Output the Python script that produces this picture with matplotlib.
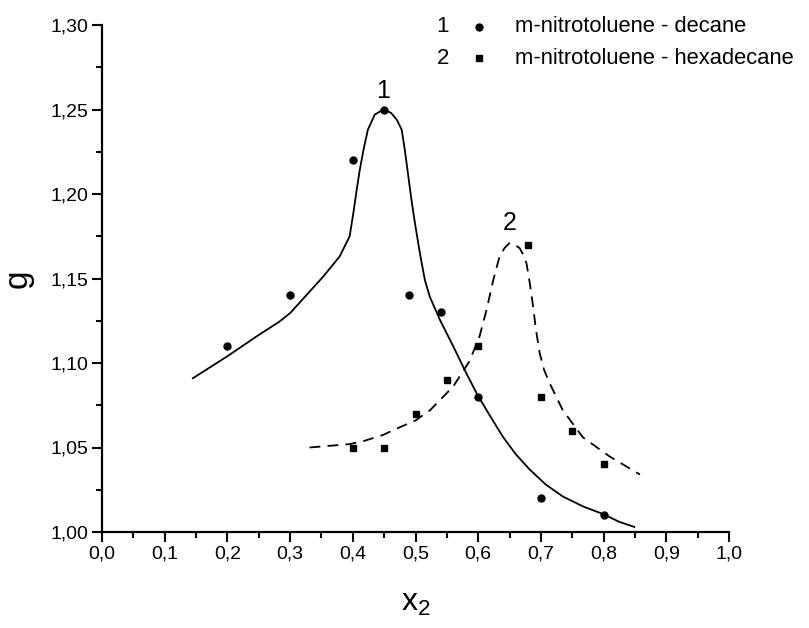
import numpy as np
import matplotlib
matplotlib.use("Agg")
import matplotlib.pyplot as plt
from matplotlib.ticker import MultipleLocator, FuncFormatter

plt.rcParams['font.family'] = ['Liberation Sans', 'DejaVu Sans']
plt.rcParams['mathtext.fontset'] = 'custom'
plt.rcParams['mathtext.rm'] = 'Liberation Sans'
plt.rcParams['mathtext.it'] = 'Liberation Sans'

# measured points
x_decane = [0.20, 0.30, 0.40, 0.45, 0.49, 0.54, 0.60, 0.70, 0.80]
g_decane = [1.11, 1.14, 1.22, 1.25, 1.14, 1.13, 1.08, 1.02, 1.01]

x_hexadecane = [0.40, 0.45, 0.50, 0.55, 0.60, 0.68, 0.70, 0.75, 0.80]
g_hexadecane = [1.05, 1.05, 1.07, 1.09, 1.11, 1.17, 1.08, 1.06, 1.04]

# curves
curve1_x = [0.145, 0.200, 0.246, 0.283, 0.300, 0.3525, 0.379, 0.395, 0.401,
            0.406, 0.411, 0.417, 0.424, 0.435, 0.449, 0.461, 0.470, 0.478,
            0.483, 0.488, 0.493, 0.499, 0.507, 0.515, 0.523, 0.539, 0.560,
            0.581, 0.599, 0.620, 0.640, 0.660, 0.682, 0.708, 0.735, 0.768,
            0.800, 0.825, 0.849]
curve1_g = [1.091, 1.104, 1.1156, 1.1245, 1.1295, 1.151, 1.163, 1.175, 1.189,
            1.202, 1.214, 1.226, 1.238, 1.247, 1.250, 1.248, 1.244, 1.238,
            1.226, 1.212, 1.198, 1.183, 1.165, 1.149, 1.139, 1.1255, 1.110,
            1.094, 1.081, 1.068, 1.056, 1.046, 1.037, 1.028, 1.021, 1.015,
            1.0105, 1.006, 1.003]

curve2_x = [0.331, 0.363, 0.395, 0.419, 0.448, 0.475, 0.500, 0.523, 0.560,
            0.586, 0.602, 0.613, 0.624, 0.634, 0.642, 0.650, 0.658, 0.666,
            0.672, 0.677, 0.682, 0.687, 0.692, 0.698, 0.705, 0.714, 0.735,
            0.767, 0.810, 0.858]
curve2_g = [1.050, 1.051, 1.052, 1.054, 1.0574, 1.062, 1.066, 1.072, 1.086,
            1.101, 1.1156, 1.131, 1.149, 1.163, 1.168, 1.171, 1.170, 1.168,
            1.164, 1.159, 1.148, 1.135, 1.120, 1.106, 1.096, 1.088, 1.072,
            1.056, 1.0446, 1.034]

fig = plt.figure(figsize=(8.09, 6.28), dpi=100)
ax = fig.add_axes([102 / 809, 1 - 532 / 628, 627 / 809, 507 / 628])

ax.plot(curve1_x, curve1_g, color='black', lw=1.3)
ax.plot(curve2_x, curve2_g, color='black', lw=1.3, dashes=(6, 4))
ax.plot(x_decane, g_decane, 'o', color='black', ms=5, clip_on=False)
ax.plot(x_hexadecane, g_hexadecane, 's', color='black', ms=4.5, clip_on=False)

ax.text(0.449, 1.254, '1', ha='center', va='bottom', fontsize=18)
ax.text(0.650, 1.176, '2', ha='center', va='bottom', fontsize=18)

ax.set_xlim(0, 1.0)
ax.set_ylim(1.0, 1.30)
ax.xaxis.set_major_locator(MultipleLocator(0.1))
ax.xaxis.set_minor_locator(MultipleLocator(0.05))
ax.yaxis.set_major_locator(MultipleLocator(0.05))
ax.yaxis.set_minor_locator(MultipleLocator(0.025))
ax.xaxis.set_major_formatter(FuncFormatter(lambda v, p: f"{v:.1f}".replace('.', ',')))
ax.yaxis.set_major_formatter(FuncFormatter(lambda v, p: f"{v:.2f}".replace('.', ',')))

for s in ['top', 'right']:
    ax.spines[s].set_visible(False)
for s in ['left', 'bottom']:
    ax.spines[s].set_linewidth(1.6)
ax.tick_params(which='major', direction='out', length=7, width=1.5, labelsize=14, pad=3)
ax.tick_params(which='minor', direction='out', length=4, width=1.5)

ax.set_ylabel('g', fontsize=24, labelpad=12)
ax.set_xlabel('x$_2$', fontsize=23, labelpad=18)

# legend drawn by hand
fig.text(443 / 809, 1 - 27 / 628, '1', ha='center', va='center', fontsize=16)
fig.text(443 / 809, 1 - 58 / 628, '2', ha='center', va='center', fontsize=16)
fig.text(515 / 809, 1 - 27 / 628, 'm-nitrotoluene - decane', ha='left', va='center', fontsize=15.8)
fig.text(515 / 809, 1 - 58 / 628, 'm-nitrotoluene - hexadecane', ha='left', va='center', fontsize=15.8)
fig.lines.append(plt.Line2D([479 / 809], [1 - 27 / 628], marker='o', color='black', ms=5,
                            transform=fig.transFigure, figure=fig))
fig.lines.append(plt.Line2D([479 / 809], [1 - 58 / 628], marker='s', color='black', ms=4.5,
                            transform=fig.transFigure, figure=fig))

fig.savefig('out.png', dpi=100)
